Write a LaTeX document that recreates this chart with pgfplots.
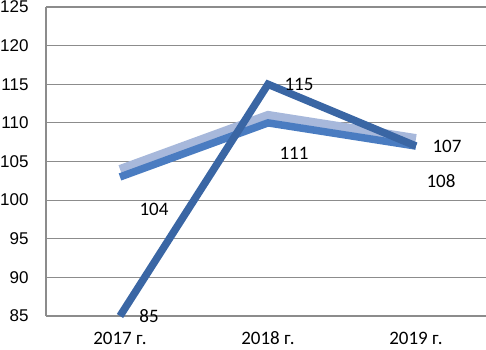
\documentclass[border=0pt]{standalone}
\usepackage{pgfplots}
\pgfplotsset{compat=1.18}
\usepackage{fontspec}
\setmainfont{Carlito}
\newfontfamily\arialf{Liberation Sans}
\definecolor{cdark}{HTML}{3A66A4}
\definecolor{cmed}{HTML}{4A7CC1}
\definecolor{clight}{HTML}{A7B8DB}
\definecolor{cgrid}{HTML}{8C8C8C}
\begin{document}
\begin{tikzpicture}
\begin{axis}[
  scale only axis,
  width=440pt, height=309pt,
  xmin=-0.5, xmax=2.473,
  ymin=85, ymax=125,
  ytick={85,90,...,125},
  xtick={0,1,2},
  xticklabels={2017 г.,2018 г.,2019 г.},
  axis x line*=bottom,
  axis y line*=left,
  axis line style={cgrid, line width=1.2pt, -},
  ymajorgrids,
  grid style={cgrid, line width=1.2pt},
  major tick length=0pt,
  yticklabel style={font=\arialf\fontsize{17}{17}\selectfont, anchor=east, xshift=-14pt},
  xticklabel style={font=\fontsize{19}{19}\selectfont, anchor=center, yshift=-22pt},
  /pgf/number format/assume math mode=true,
  clip=false,
]
\addplot[clight, line width=8.5pt, line join=miter] coordinates {(0,104) (1,111) (2,108)};
\addplot[cmed, line width=7.5pt, line join=miter] coordinates {(0,103) (1,110) (2,107)};
\addplot[cdark, line width=7.5pt, line join=miter] coordinates {(0,85) (1,115) (2,107)};
\begin{scope}[font=\fontsize{19}{19}\selectfont]
\node at (axis cs:0,85) [xshift=29pt] {85};
\node at (axis cs:1,115) [xshift=31pt] {115};
\node at (axis cs:2,107) [xshift=31pt] {107};
\node at (axis cs:0,104) [xshift=34pt, yshift=-40pt] {104};
\node at (axis cs:1,111) [xshift=26pt, yshift=-38pt] {111};
\node at (axis cs:2,108) [xshift=25pt, yshift=-43pt] {108};
\end{scope}
\end{axis}
\pgfresetboundingbox
\useasboundingbox (-46pt,-33pt) rectangle (440pt,316pt);
\end{tikzpicture}
\end{document}
